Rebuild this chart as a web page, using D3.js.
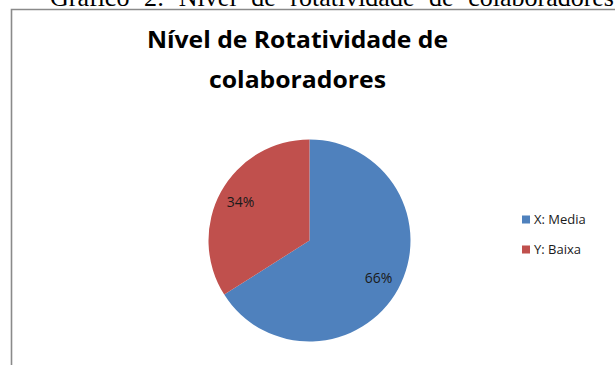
<!DOCTYPE html>
<html><head><meta charset="utf-8">
<script src="https://cdn.jsdelivr.net/npm/d3@7"></script>
<style>body{margin:0;background:#fff;}svg{display:block;}</style>
</head><body>
<script>
const categories = ["X: Media", "Y: Baixa"];
const values = [66, 34];
const colors = ["#4F81BD", "#C0504D"];
const titleLines = ["Nível de Rotatividade de", "colaboradores"];
const caption = "Gráfico 2: Nível de rotatividade de colaboradores";

const W = 615, H = 365;
const svg = d3.select("body").append("svg").attr("width", W).attr("height", H);

// caption (cut off at top, as in the reference)
const cap = svg.append("text").attr("x", 50).attr("y", 6)
  .attr("font-family", "Liberation Serif, Times New Roman, serif")
  .attr("font-size", 26).attr("fill", "#000").text(caption);
const capLen = cap.node().getComputedTextLength();
const gaps = caption.split(" ").length - 1;
cap.attr("word-spacing", (614 - 50 - capLen) / gaps);

// frame
svg.append("path").attr("d", `M11.5,${H} V9.5 H${W}`)
  .attr("fill", "none").attr("stroke", "#8a8a8a").attr("stroke-width", 1.6);

// title
const titleFont = "Open Sans, Noto Sans, sans-serif";
const tl = [{t: titleLines[0], y: 48, w: 301}, {t: titleLines[1], y: 88, w: 177}];
tl.forEach(d => {
  svg.append("text").attr("x", 297.5).attr("y", d.y).attr("text-anchor", "middle")
    .attr("font-family", titleFont).attr("font-weight", "bold").attr("font-size", 24)
    .attr("textLength", d.w).attr("lengthAdjust", "spacingAndGlyphs")
    .attr("fill", "#000").text(d.t);
});

// pie
const cx = 309.5, cy = 240.5, r = 101;
const pie = d3.pie().sort(null).value(d => d)(values);
const arc = d3.arc().innerRadius(0).outerRadius(r);
const g = svg.append("g").attr("transform", `translate(${cx},${cy})`);
g.selectAll("path").data(pie).join("path")
  .attr("d", arc).attr("fill", (d, i) => colors[i]);

const labelArc = d3.arc().innerRadius(r * 0.78).outerRadius(r * 0.78);
g.selectAll("text").data(pie).join("text")
  .attr("transform", d => `translate(${labelArc.centroid(d)})`)
  .attr("text-anchor", "middle").attr("dy", "0.35em")
  .attr("font-family", "Open Sans, sans-serif").attr("font-size", 14)
  .attr("fill", "#1a1a1a")
  .text(d => d.data + "%");

// legend
const lg = svg.append("g");
categories.forEach((c, i) => {
  const y = 219.5 + i * 30;
  lg.append("rect").attr("x", 522).attr("y", y - 4).attr("width", 8).attr("height", 8)
    .attr("fill", colors[i]);
  lg.append("text").attr("x", 534).attr("y", y).attr("dy", "0.35em")
    .attr("font-family", "Open Sans, sans-serif").attr("font-size", 13)
    .attr("fill", "#1a1a1a").text(c);
});
</script>
</body></html>
